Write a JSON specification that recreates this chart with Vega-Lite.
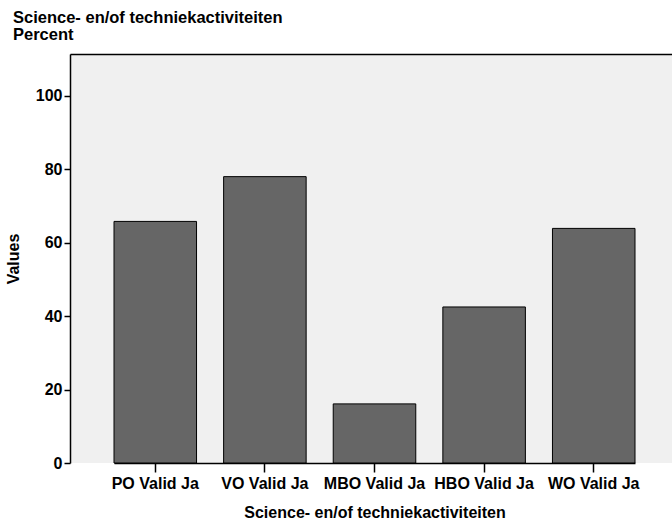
{
  "$schema": "https://vega.github.io/schema/vega-lite/v6.json",
  "autosize": "none",
  "width": 602,
  "height": 409,
  "padding": {"top": 54, "left": 70, "right": 0, "bottom": 57},
  "background": "white",
  "config": {
    "font": "Liberation Sans",
    "view": {"stroke": null, "fill": "#f0f0f0"},
    "axis": {"grid": false, "domainColor": "black", "tickColor": "black", "labelColor": "black", "titleColor": "black", "labelFont": "Liberation Sans", "titleFont": "Liberation Sans", "labelFontWeight": "bold", "titleFontWeight": "bold", "labelFontSize": 16, "titleFontSize": 16, "domainWidth": 1.5, "tickWidth": 1.5}
  },
  "title": {
    "text": ["Science- en/of techniekactiviteiten", "Percent"],
    "anchor": "start",
    "frame": "group",
    "dx": -57,
    "fontSize": 16.5,
    "fontWeight": "bold",
    "lineHeight": 17,
    "color": "black",
    "offset": 11
  },
  "data": {
    "values": [
      {"category": "PO Valid Ja", "value": 65.8},
      {"category": "VO Valid Ja", "value": 78.0},
      {"category": "MBO Valid Ja", "value": 16.1},
      {"category": "HBO Valid Ja", "value": 42.5},
      {"category": "WO Valid Ja", "value": 63.9}
    ]
  },
  "layer": [
    {
      "mark": {"type": "bar", "fill": "#666666", "stroke": "black", "strokeWidth": 1},
      "encoding": {
        "x": {
          "field": "category", "type": "nominal", "sort": null,
          "scale": {"range": [44, 565], "paddingInner": 0.247, "paddingOuter": 0},
          "axis": {"title": "Science- en/of techniekactiviteiten", "labelAngle": 0, "tickSize": 9, "labelPadding": 3, "titlePadding": 13}
        },
        "y": {
          "field": "value", "type": "quantitative",
          "scale": {"domain": [0, 111.4], "nice": false},
          "axis": {"title": "Values", "values": [0, 20, 40, 60, 80, 100], "tickSize": 6, "labelPadding": 2, "titlePadding": 14}
        }
      }
    },
    {
      "mark": {"type": "point", "opacity": 0},
      "encoding": {
        "x": {
          "field": "value", "type": "quantitative",
          "scale": {"domain": [0, 100], "nice": false, "zero": false},
          "axis": {"orient": "top", "title": null, "labels": false, "ticks": false, "domain": true}
        },
        "y": {"field": "value", "type": "quantitative"}
      }
    }
  ],
  "resolve": {"scale": {"x": "independent"}, "axis": {"x": "independent"}}
}
